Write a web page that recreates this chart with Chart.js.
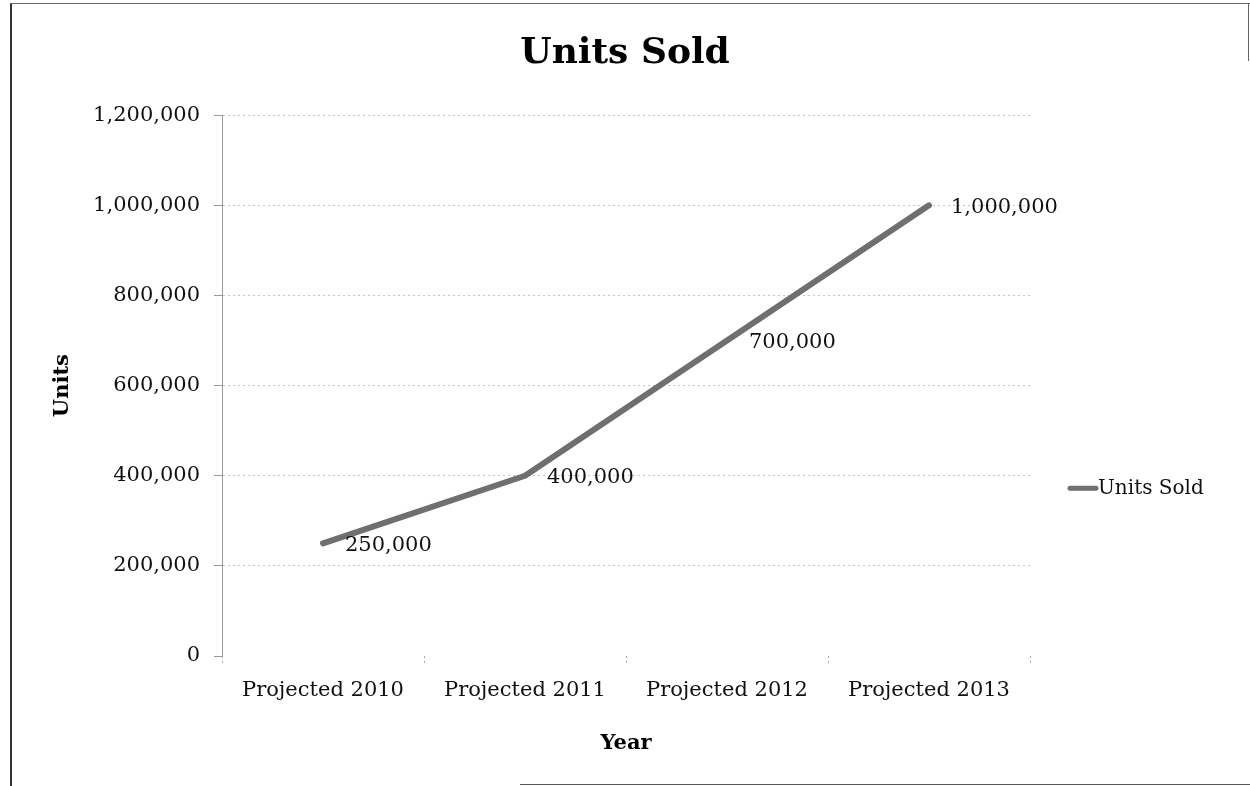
<!DOCTYPE html>
<html>
<head>
<meta charset="utf-8">
<title>Units Sold</title>
<script src="https://cdn.jsdelivr.net/npm/chart.js@4.4.1/dist/chart.umd.min.js"></script>
<style>
  body { margin: 0; background: #fff; }
  #wrap { position: relative; width: 1250px; height: 786px; overflow: hidden; }
  #wrap canvas { position: absolute; left: 0; top: 0; }
  .edge { position: absolute; background: #333; }
</style>
</head>
<body>
<div id="wrap">
  <canvas id="unitsChart" width="1250" height="786"></canvas>
  <!-- marco del grafico -->
  <div class="edge" style="left:10px; top:4px; width:2px; height:782px;"></div>
  <div class="edge" style="left:10px; top:3px; width:1240px; height:1px; background:#666;"></div>
  <div class="edge" style="left:1248px; top:3px; width:1px; height:58px; background:#666;"></div>
  <div class="edge" style="left:520px; top:784px; width:730px; height:1px; background:#555;"></div>
</div>
<script>
// Datos de la grafica
var years = ['Projected 2010', 'Projected 2011', 'Projected 2012', 'Projected 2013'];
var unitsSold = [250000, 400000, 700000, 1000000];
var yTicks = [0, 200000, 400000, 600000, 800000, 1000000, 1200000];

var serif = "'DejaVu Serif', 'Liberation Serif', serif";

function formatNum(v) {
    return Number(v).toLocaleString('en-US');
}

// Etiquetas de valor a la derecha de cada punto
var valueLabels = {
    id: 'valueLabels',
    afterDatasetsDraw: function(chart) {
        var ctx = chart.ctx;
        var meta = chart.getDatasetMeta(0);
        ctx.save();
        ctx.font = '21px ' + serif;
        ctx.fillStyle = '#111';
        ctx.textAlign = 'left';
        ctx.textBaseline = 'middle';
        meta.data.forEach(function(pt, i) {
            ctx.fillText(formatNum(chart.data.datasets[0].data[i]), pt.x + 22, pt.y + 2);
        });
        ctx.restore();
    }
};

// Leyenda a la derecha, como en Excel
var sideLegend = {
    id: 'sideLegend',
    afterDraw: function(chart) {
        var ctx = chart.ctx;
        var area = chart.chartArea;
        var ds = chart.data.datasets[0];
        var x0 = area.right + 40;
        var y = area.top + area.height * 0.69;
        ctx.save();
        ctx.strokeStyle = ds.borderColor;
        ctx.lineWidth = 5;
        ctx.lineCap = 'round';
        ctx.beginPath();
        ctx.moveTo(x0, y);
        ctx.lineTo(x0 + 26, y);
        ctx.stroke();
        ctx.font = '20px ' + serif;
        ctx.fillStyle = '#111';
        ctx.textBaseline = 'middle';
        ctx.fillText(ds.label, x0 + 28, y);
        ctx.restore();
    }
};

var ctx = document.getElementById('unitsChart').getContext('2d');
var unitsChart = new Chart(ctx, {
    type: 'line',
    data: {
        labels: years,
        datasets: [{
            label: 'Units Sold',
            data: unitsSold,
            borderColor: '#6f6f6f',
            borderWidth: 6,
            borderCapStyle: 'round',
            borderJoinStyle: 'round',
            pointRadius: 0,
            tension: 0,
            fill: false
        }]
    },
    options: {
        responsive: false,
        animation: false,
        layout: { padding: 0 },
        plugins: {
            legend: { display: false },
            tooltip: { enabled: false },
            title: {
                display: true,
                text: 'Units Sold',
                color: '#000',
                font: { family: serif, size: 36, weight: 'bold' },
                padding: { top: 32, bottom: 40 }
            }
        },
        scales: {
            x: {
                offset: true,
                afterFit: function(scale) { scale.height = 130; },
                grid: {
                    offset: true,
                    drawOnChartArea: false,
                    tickLength: 8,
                    color: '#aaa',
                    tickBorderDash: [2, 3]
                },
                border: { display: false },
                ticks: {
                    color: '#111',
                    padding: 14,
                    maxRotation: 0,
                    font: { family: serif, size: 21 }
                },
                title: {
                    display: true,
                    text: 'Year',
                    color: '#000',
                    font: { family: serif, size: 21, weight: 'bold' },
                    padding: { top: 0, bottom: 30 }
                }
            },
            y: {
                min: 0,
                max: 1200000,
                afterFit: function(scale) { scale.width = 222; },
                afterBuildTicks: function(scale) {
                    scale.ticks = yTicks.map(function(v) { return { value: v }; });
                },
                grid: {
                    color: function(c) { return c.tick && c.tick.value === 0 ? 'rgba(0,0,0,0)' : '#c4c4c4'; },
                    lineWidth: 1,
                    borderDash: [6, 4],
                    tickLength: 8,
                    tickColor: '#999'
                },
                border: { display: true, color: '#999', dash: [2, 3] },
                ticks: {
                    color: '#111',
                    padding: 14,
                    font: { family: serif, size: 21 },
                    callback: function(v) { return formatNum(v); }
                },
                title: {
                    display: true,
                    text: 'Units',
                    color: '#000',
                    font: { family: serif, size: 21, weight: 'bold' },
                    padding: { top: 50, bottom: 0 }
                }
            },
            // eje vacio a la derecha: reserva el espacio de la leyenda
            legendSpace: {
                type: 'linear',
                position: 'right',
                afterFit: function(scale) { scale.width = 220; },
                grid: { display: false },
                border: { display: false },
                ticks: { display: false }
            }
        }
    },
    plugins: [valueLabels, sideLegend]
});
</script>
</body>
</html>
